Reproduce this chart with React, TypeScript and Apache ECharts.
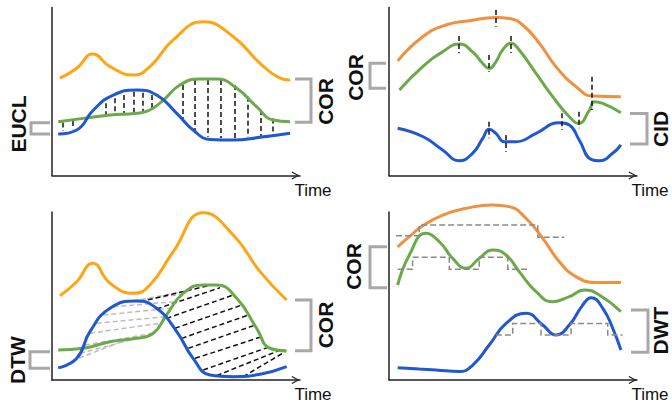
import React, { useEffect, useRef } from "react";
import * as echarts from "echarts";

// ---------- data (x: time 0-100, y: value 0-100) ----------
// Panel 1 (top-left): Euclidean vs correlation
const p1Orange = [[3.2,57.9],[10,63.8],[16.4,72.3],[23.4,64.8],[32.8,59.8],[39.5,64.8],[48.9,80.7],[61,91.5],[73.1,82.6],[83.9,66.8],[91.5,58.3],[96,56.8]];
const p1Green = [[2.5,32],[12.6,34],[23.4,36],[34.1,37],[39.5,39],[44.9,44.9],[51.6,53.9],[59.7,57.4],[66.4,57.4],[74.5,51.9],[82.5,41],[89.2,33],[96,32]];
const p1Blue = [[2.5,24.7],[10,27.1],[16.7,39],[24.7,47.9],[34.1,50.9],[42.2,47.9],[50.3,37],[56.9,27.1],[63.7,21.5],[73.1,21.1],[83.9,22.7],[96,25.1]];
// vertical distance links [x, yTop, yBottom]
const p1Links = [[4.2,31.5,26.5],[8.2,32.5,27.5],[21.7,43,36],[25.4,46,36.3],[29,47.9,36.4],[32.8,49.9,37],[36.4,49.3,37.5],[40.2,47.9,39],[52.7,53.9,33],[57.7,56.8,26.1],[63,56.8,23.1],[68,56.8,22.1],[73.8,53.9,22.1],[78.9,46.9,22.7],[84.2,39,23.1],[89.2,34,24.1]];

// Panel 2 (top-right): correlation vs complexity
const p2Orange = [[3.5,68.2],[13.6,82.6],[23,89.6],[32.4,92.1],[43.1,94.1],[48.5,93.5],[53.9,89.6],[60.6,78.7],[67.3,64.8],[75.4,52.9],[82.1,47.3],[93.5,46.9]];
const p2Green = [[4.2,50.9],[13.6,64.8],[21.6,73.6],[28.3,78.3],[33.7,73.6],[37.8,66.7],[40.4,63.7],[43.1,67.7],[45.8,74.7],[49.2,78.7],[52.5,74.7],[59.3,60.8],[66,46.9],[72.7,35],[76.5,31],[80.8,38.9],[82.8,43.9],[86.2,42.9],[93.5,37.4]];
const p2Blue = [[3.5,28.1],[13.6,23.2],[21.6,15.2],[28.3,8.8],[33.7,13.2],[37.8,22.1],[40.4,27.5],[43.1,25.1],[46.5,20.1],[51.2,20.1],[59.3,25.1],[68.7,31.4],[72.7,30.1],[76.7,21.1],[81.5,9.6],[84.8,8.8],[90.2,13.2],[93.5,18.2]];
// feature markers [x, yTop, yBottom]
const p2Marks = [[42.9,98.5,88.6],[28.3,83,72.7],[40.2,71.7,61.8],[48.9,83,72.9],[40.2,32,22.1],[47.2,24.1,14.2],[69.5,37,27.1],[76.5,38,28.1],[81.9,58.8,39]];

// Panel 3 (bottom-left): dynamic time warping
const p3Orange = [[3.2,50.2],[10,58.5],[16.4,69.5],[23.4,57.6],[32.8,51.6],[39.5,56.5],[48.9,76.4],[61,99.5],[73.1,86.3],[83.9,64.5],[94.6,47.6]];
const p3Green = [[2.5,17.9],[12.6,18.9],[23.4,22.8],[34.1,24.8],[40.8,27.8],[46.2,38.7],[52.9,51.6],[61,56.5],[66.4,56.5],[74.5,48.6],[82.5,30.8],[87.9,18.9],[94.6,17.4]];
const p3Blue = [[2.5,7.3],[10,12.9],[15.3,28.8],[23.4,42.7],[34.1,47],[42.2,42.7],[50.3,28.8],[56.9,12.9],[63.7,3],[73.1,2],[83.9,3.4],[94.6,7.9]];
// warping links [x1, y1, x2, y2]
const p3LinksGrey = [[7.9,11.3,31.5,24.8],[11.3,15.9,36.8,25.8],[13.3,20.8,40.9,27.8],[15.3,27.8,43.5,33.8],[18,33.8,45.6,37.7],[20.7,38.7,47.6,42.7],[24.7,43.6,49.6,46.6],[28.8,46.2,52.3,51],[32.8,47,54.3,53]];
const p3LinksBlack = [[35.5,46.6,63,56.1],[42.2,42.3,67.7,54.9],[46.2,36.7,73.1,50.6],[49.6,30.8,76.5,44.6],[52.3,24.8,79.2,38.7],[55,18.9,81.9,32.7],[57.7,12.9,84.6,25.8],[61,6,87.9,19.8],[66.4,2.6,91.3,17.4],[77.1,2,94,16.8]];

// Panel 4 (bottom-right): wavelet approximation
const p4Orange = [[3.5,79.3],[8.2,85.3],[13.6,91.8],[21.7,98.2],[32.4,102.6],[41.8,104.2],[48.5,103.2],[55.2,96.3],[62,84.3],[68.7,70.4],[75.4,61.5],[83.5,58.1],[93.5,58.1]];
const p4Green = [[3.5,56.5],[8.2,74.4],[14.9,87.3],[20.3,82.3],[25.7,72.4],[31,66.5],[36.4,72.4],[41.8,77.4],[47.2,74.4],[52.5,64.5],[59.3,52.6],[66,46.6],[72.7,49.6],[78.8,53.6],[84.8,50.6],[93.5,40.7]];
const p4Blue = [[3.5,7.3],[12.2,6.5],[19,6],[28.3,5],[33.8,8.9],[40.4,20.8],[47.2,33.7],[55.2,39.7],[62,32.7],[67.3,26.8],[72.7,32.7],[78.1,44.6],[81.5,49],[86.2,42.7],[90.2,30.8],[93.5,17.9]];
// step approximations
const p4OrangeSteps = [[2.8,85.9],[12.2,85.9],[12.2,92.3],[60,92.3],[60,84.9],[70.7,84.9]];
const p4GreenSteps = [[3.5,65.9],[9.5,65.9],[9.5,73],[24.3,73],[24.3,65.9],[36.4,65.9],[36.4,73],[47.9,73],[47.9,65.9],[55.9,65.9]];
const p4BlueSteps = [[43.1,26.8],[49.9,26.8],[49.9,33.7],[61.3,33.7],[61.3,26.8],[73.4,26.8],[73.4,33.7],[88.2,33.7],[88.2,26.8],[94.2,26.8]];

// bracket labels
const bracketLabels = ["EUCL", "COR", "COR", "CID", "DTW", "COR", "COR", "DWT"];

// ---------- styles ----------
const ORANGE_A = "#FFA514";
const ORANGE_B = "#EE9140";
const GREEN = "#6BAA4B";
const BLUE = "#1F58D0";
const BRACKET = "#A8A8A8";
const FONT = '"Liberation Sans", Arial, sans-serif';

const GRIDS = [
  { left: 52, top: 7.5, width: 248, height: 168 },
  { left: 389, top: 7.5, width: 248, height: 168 },
  { left: 52, top: 212, width: 248, height: 168 },
  { left: 389, top: 212, width: 248, height: 168 },
];

const ARROW = "path://M35,0 L70,64 L62,70 L35,20 L8,70 L0,64 Z";

function curve(data: number[][], idx: number, color: string) {
  return {
    type: "line",
    xAxisIndex: idx,
    yAxisIndex: idx,
    data,
    smooth: true,
    showSymbol: false,
    symbol: "none",
    clip: false,
    lineStyle: { color, width: 3 },
    z: 3,
  };
}

function links(segs: number[][][], idx: number, color: string, z = 2) {
  return {
    type: "lines",
    coordinateSystem: "cartesian2d",
    xAxisIndex: idx,
    yAxisIndex: idx,
    polyline: false,
    silent: true,
    data: segs.map((c) => ({ coords: c })),
    lineStyle: { color, width: 1.5, type: [5, 3], opacity: 1 },
    z,
  };
}

function steps(pts: number[][], idx: number) {
  return {
    type: "lines",
    coordinateSystem: "cartesian2d",
    xAxisIndex: idx,
    yAxisIndex: idx,
    polyline: true,
    silent: true,
    data: [{ coords: pts }],
    lineStyle: { color: "#8A8A8A", width: 1.5, type: [6, 3], opacity: 1 },
    z: 4,
  };
}

function bracket(points: number[][]) {
  return {
    type: "polyline",
    shape: { points },
    style: { stroke: BRACKET, lineWidth: 3, fill: "none" },
    z: 10,
  };
}

function label(text: string, x: number, y: number) {
  return {
    type: "text",
    x,
    y,
    rotation: Math.PI / 2,
    style: {
      text,
      font: `bold 21px ${FONT}`,
      fill: "#111",
      align: "center",
      verticalAlign: "middle",
      textAlign: "center",
      textVerticalAlign: "middle",
    },
    z: 10,
  };
}

export default function App() {
  const ref = useRef<HTMLDivElement>(null);
  useEffect(() => {
    if (!ref.current) return;
    const chart = echarts.init(ref.current, undefined, { renderer: "svg" });

    const xAxes = GRIDS.map((_, i) => ({
      type: "value",
      gridIndex: i,
      min: 0,
      max: 100,
      name: "Time",
      nameLocation: "end",
      nameGap: 13,
      nameTextStyle: {
        fontSize: 17,
        fontFamily: FONT,
        color: "#111",
        align: "center",
        verticalAlign: "top",
        padding: [6, 0, 0, 0],
      },
      axisLine: {
        show: true,
        onZero: false,
        symbol: ["none", ARROW],
        symbolSize: [8, 9],
        symbolOffset: [0, -4.5],
        lineStyle: { color: "#222", width: 1.5 },
      },
      axisTick: { show: false },
      axisLabel: { show: false },
      splitLine: { show: false },
    }));
    const yAxes = GRIDS.map((_, i) => ({
      type: "value",
      gridIndex: i,
      min: 0,
      max: 100,
      axisLine: { show: true, onZero: false, lineStyle: { color: "#222", width: 1.5 } },
      axisTick: { show: false },
      axisLabel: { show: false },
      splitLine: { show: false },
    }));

    const toSeg = (a: number[][]) => a.map(([x, t, b]) => [[x, t], [x, b]]);
    const toDiag = (a: number[][]) => a.map(([x1, y1, x2, y2]) => [[x1, y1], [x2, y2]]);

    const series: any[] = [
      links(toSeg(p1Links), 0, "#111"),
      curve(p1Orange, 0, ORANGE_A),
      curve(p1Green, 0, GREEN),
      curve(p1Blue, 0, BLUE),

      curve(p2Orange, 1, ORANGE_B),
      curve(p2Green, 1, GREEN),
      curve(p2Blue, 1, BLUE),
      links(toSeg(p2Marks), 1, "#111", 5),

      links(toDiag(p3LinksGrey), 2, "#BDBDBD"),
      links(toDiag(p3LinksBlack), 2, "#111"),
      curve(p3Orange, 2, ORANGE_A),
      curve(p3Green, 2, GREEN),
      curve(p3Blue, 2, BLUE),

      curve(p4Orange, 3, ORANGE_B),
      curve(p4Green, 3, GREEN),
      curve(p4Blue, 3, BLUE),
      steps(p4OrangeSteps, 3),
      steps(p4GreenSteps, 3),
      steps(p4BlueSteps, 3),
    ];

    const graphic = [
      bracket([[50, 122.7], [31, 122.7], [31, 134], [50, 134]]),
      label(bracketLabels[0], 18.5, 124),
      bracket([[295, 79], [311, 79], [311, 122.3], [295, 122.3]]),
      label(bracketLabels[1], 325, 101.5),
      bracket([[386, 63.3], [370, 63.3], [370, 88.3], [386, 88.3]]),
      label(bracketLabels[2], 355, 77.5),
      bracket([[630, 113.5], [647, 113.5], [647, 144], [630, 144]]),
      label(bracketLabels[3], 660, 129),
      bracket([[50, 351.7], [30, 351.7], [30, 368.3], [50, 368.3]]),
      label(bracketLabels[4], 17, 360),
      bracket([[295, 300], [311, 300], [311, 350.7], [295, 350.7]]),
      label(bracketLabels[5], 325, 325),
      bracket([[387, 246.7], [370, 246.7], [370, 287.7], [387, 287.7]]),
      label(bracketLabels[6], 353.5, 266.5),
      bracket([[631, 310], [648, 310], [648, 352.3], [631, 352.3]]),
      label(bracketLabels[7], 660, 330.5),
    ];

    chart.setOption({
      animation: false,
      backgroundColor: "#fff",
      grid: GRIDS.map((g) => ({ ...g, containLabel: false })),
      xAxis: xAxes,
      yAxis: yAxes,
      series,
      graphic,
    });
    return () => chart.dispose();
  }, []);

  return (
    <div
      ref={ref}
      style={{ position: "absolute", left: 0, top: 0, width: 672, height: 410 }}
    />
  );
}
